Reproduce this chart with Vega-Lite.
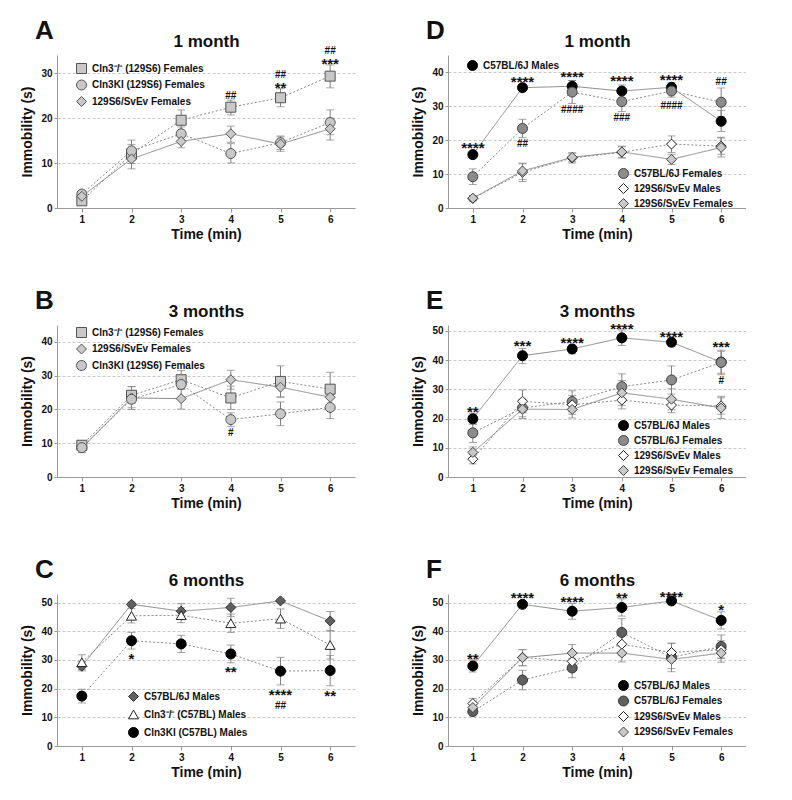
{
"$schema":"https://vega.github.io/schema/vega-lite/v6.json",
"padding":{"left":20,"top":18,"right":0,"bottom":0},
"spacing":47,
"resolve":{"scale":{"shape":"independent","fill":"independent","stroke":"independent","strokeDash":"independent"},"legend":{"shape":"independent","fill":"independent","stroke":"independent","strokeDash":"independent"}},
"datasets":{
"A":[
{"s":"Cln3⁻/⁻ (129S6) Females","t":1,"v":1.6,"lo":0.9,"hi":2.6},
{"s":"Cln3⁻/⁻ (129S6) Females","t":2,"v":12.0,"lo":9.9,"hi":14.1},
{"s":"Cln3⁻/⁻ (129S6) Females","t":3,"v":19.5,"lo":17.0,"hi":21.8},
{"s":"Cln3⁻/⁻ (129S6) Females","t":4,"v":22.4,"lo":20.7,"hi":24.0},
{"s":"Cln3⁻/⁻ (129S6) Females","t":5,"v":24.5,"lo":22.5,"hi":26.5},
{"s":"Cln3⁻/⁻ (129S6) Females","t":6,"v":29.3,"lo":26.7,"hi":31.8},
{"s":"Cln3KI (129S6) Females","t":1,"v":3.1,"lo":2.3,"hi":3.9},
{"s":"Cln3KI (129S6) Females","t":2,"v":12.7,"lo":10.5,"hi":15.1},
{"s":"Cln3KI (129S6) Females","t":3,"v":16.5,"lo":14.9,"hi":18.0},
{"s":"Cln3KI (129S6) Females","t":4,"v":12.1,"lo":10.0,"hi":14.3},
{"s":"Cln3KI (129S6) Females","t":5,"v":14.5,"lo":13.0,"hi":16.0},
{"s":"Cln3KI (129S6) Females","t":6,"v":19.0,"lo":16.3,"hi":21.8},
{"s":"129S6/SvEv Females","t":1,"v":2.6,"lo":1.8,"hi":3.5},
{"s":"129S6/SvEv Females","t":2,"v":10.9,"lo":8.7,"hi":13.0},
{"s":"129S6/SvEv Females","t":3,"v":14.8,"lo":13.4,"hi":16.2},
{"s":"129S6/SvEv Females","t":4,"v":16.5,"lo":14.6,"hi":18.2},
{"s":"129S6/SvEv Females","t":5,"v":14.2,"lo":12.6,"hi":15.8},
{"s":"129S6/SvEv Females","t":6,"v":17.6,"lo":15.1,"hi":20.0}
],
"aA":[{"t":4,"y":24.9,"m":"##"},{"t":5,"y":29.5,"m":"##"},{"t":5,"y":27.3,"m":"**"},{"t":6,"y":35.0,"m":"##"},{"t":6,"y":32.6,"m":"***"}],
"D":[
{"s":"C57BL/6J Males","t":1,"v":15.7,"lo":15.0,"hi":16.4},
{"s":"C57BL/6J Males","t":2,"v":35.4,"lo":34.8,"hi":36.0},
{"s":"C57BL/6J Males","t":3,"v":35.8,"lo":34.2,"hi":37.5},
{"s":"C57BL/6J Males","t":4,"v":34.4,"lo":32.5,"hi":36.2},
{"s":"C57BL/6J Males","t":5,"v":35.5,"lo":34.2,"hi":36.9},
{"s":"C57BL/6J Males","t":6,"v":25.5,"lo":22.5,"hi":28.7},
{"s":"C57BL/6J Females","t":1,"v":9.2,"lo":6.9,"hi":11.5},
{"s":"C57BL/6J Females","t":2,"v":23.4,"lo":20.7,"hi":26.1},
{"s":"C57BL/6J Females","t":3,"v":34.1,"lo":30.7,"hi":37.5},
{"s":"C57BL/6J Females","t":4,"v":31.3,"lo":28.4,"hi":34.2},
{"s":"C57BL/6J Females","t":5,"v":34.4,"lo":32.6,"hi":36.2},
{"s":"C57BL/6J Females","t":6,"v":31.1,"lo":26.9,"hi":35.3},
{"s":"129S6/SvEv Males","t":1,"v":2.8,"lo":2.0,"hi":3.6},
{"s":"129S6/SvEv Males","t":2,"v":10.5,"lo":7.8,"hi":13.0},
{"s":"129S6/SvEv Males","t":3,"v":14.7,"lo":13.2,"hi":16.2},
{"s":"129S6/SvEv Males","t":4,"v":16.4,"lo":14.8,"hi":18.0},
{"s":"129S6/SvEv Males","t":5,"v":18.8,"lo":16.3,"hi":21.2},
{"s":"129S6/SvEv Males","t":6,"v":18.2,"lo":15.8,"hi":20.6},
{"s":"129S6/SvEv Females","t":1,"v":2.9,"lo":2.2,"hi":3.6},
{"s":"129S6/SvEv Females","t":2,"v":10.9,"lo":8.4,"hi":13.2},
{"s":"129S6/SvEv Females","t":3,"v":14.9,"lo":13.6,"hi":16.2},
{"s":"129S6/SvEv Females","t":4,"v":16.5,"lo":14.7,"hi":18.2},
{"s":"129S6/SvEv Females","t":5,"v":14.3,"lo":12.8,"hi":15.8},
{"s":"129S6/SvEv Females","t":6,"v":17.8,"lo":15.0,"hi":20.8}
],
"aD":[{"t":1,"y":18.4,"m":"****"},{"t":2,"y":37.9,"m":"****"},{"t":2,"y":18.9,"m":"##"},{"t":3,"y":39.4,"m":"****"},{"t":3,"y":28.9,"m":"####"},{"t":4,"y":38.2,"m":"****"},{"t":4,"y":26.4,"m":"###"},{"t":5,"y":38.5,"m":"****"},{"t":5,"y":29.9,"m":"####"},{"t":6,"y":37.0,"m":"##"}],
"B":[
{"s":"Cln3⁻/⁻ (129S6) Females","t":1,"v":9.4,"lo":8.2,"hi":10.6},
{"s":"Cln3⁻/⁻ (129S6) Females","t":2,"v":24.2,"lo":21.8,"hi":26.7},
{"s":"Cln3⁻/⁻ (129S6) Females","t":3,"v":28.8,"lo":26.3,"hi":31.5},
{"s":"Cln3⁻/⁻ (129S6) Females","t":4,"v":23.4,"lo":20.0,"hi":26.9},
{"s":"Cln3⁻/⁻ (129S6) Females","t":5,"v":28.3,"lo":23.7,"hi":32.9},
{"s":"Cln3⁻/⁻ (129S6) Females","t":6,"v":26.0,"lo":21.0,"hi":31.0},
{"s":"129S6/SvEv Females","t":1,"v":8.6,"lo":7.2,"hi":10.0},
{"s":"129S6/SvEv Females","t":2,"v":23.4,"lo":20.0,"hi":26.8},
{"s":"129S6/SvEv Females","t":3,"v":23.2,"lo":20.1,"hi":26.3},
{"s":"129S6/SvEv Females","t":4,"v":28.8,"lo":26.0,"hi":31.6},
{"s":"129S6/SvEv Females","t":5,"v":26.6,"lo":23.6,"hi":29.6},
{"s":"129S6/SvEv Females","t":6,"v":23.6,"lo":20.6,"hi":26.6},
{"s":"Cln3KI (129S6) Females","t":1,"v":8.7,"lo":7.4,"hi":10.0},
{"s":"Cln3KI (129S6) Females","t":2,"v":23.0,"lo":20.5,"hi":25.5},
{"s":"Cln3KI (129S6) Females","t":3,"v":27.4,"lo":25.9,"hi":29.0},
{"s":"Cln3KI (129S6) Females","t":4,"v":17.0,"lo":15.0,"hi":19.0},
{"s":"Cln3KI (129S6) Females","t":5,"v":18.7,"lo":15.2,"hi":22.2},
{"s":"Cln3KI (129S6) Females","t":6,"v":20.6,"lo":17.3,"hi":23.9}
],
"aB":[{"t":4,"y":13.0,"m":"#"}],
"E":[
{"s":"C57BL/6J Males","t":1,"v":19.9,"lo":18.0,"hi":21.8},
{"s":"C57BL/6J Males","t":2,"v":41.5,"lo":38.8,"hi":44.0},
{"s":"C57BL/6J Males","t":3,"v":43.8,"lo":42.2,"hi":45.2},
{"s":"C57BL/6J Males","t":4,"v":47.6,"lo":45.0,"hi":50.3},
{"s":"C57BL/6J Males","t":5,"v":46.1,"lo":44.6,"hi":47.5},
{"s":"C57BL/6J Males","t":6,"v":39.3,"lo":35.5,"hi":43.0},
{"s":"C57BL/6J Females","t":1,"v":15.1,"lo":11.8,"hi":18.4},
{"s":"C57BL/6J Females","t":2,"v":23.6,"lo":20.6,"hi":26.6},
{"s":"C57BL/6J Females","t":3,"v":25.8,"lo":22.3,"hi":29.5},
{"s":"C57BL/6J Females","t":4,"v":30.9,"lo":26.5,"hi":35.3},
{"s":"C57BL/6J Females","t":5,"v":33.2,"lo":28.4,"hi":38.0},
{"s":"C57BL/6J Females","t":6,"v":39.2,"lo":35.0,"hi":43.4},
{"s":"129S6/SvEv Males","t":1,"v":6.1,"lo":4.5,"hi":7.7},
{"s":"129S6/SvEv Males","t":2,"v":25.9,"lo":22.0,"hi":29.8},
{"s":"129S6/SvEv Males","t":3,"v":24.7,"lo":21.5,"hi":27.9},
{"s":"129S6/SvEv Males","t":4,"v":26.3,"lo":23.3,"hi":29.3},
{"s":"129S6/SvEv Males","t":5,"v":24.6,"lo":22.0,"hi":27.2},
{"s":"129S6/SvEv Males","t":6,"v":24.3,"lo":21.5,"hi":27.1},
{"s":"129S6/SvEv Females","t":1,"v":8.4,"lo":6.5,"hi":10.3},
{"s":"129S6/SvEv Females","t":2,"v":23.2,"lo":20.0,"hi":26.4},
{"s":"129S6/SvEv Females","t":3,"v":23.1,"lo":20.2,"hi":26.0},
{"s":"129S6/SvEv Females","t":4,"v":28.8,"lo":24.5,"hi":33.0},
{"s":"129S6/SvEv Females","t":5,"v":26.6,"lo":23.0,"hi":30.2},
{"s":"129S6/SvEv Females","t":6,"v":23.6,"lo":20.0,"hi":27.6}
],
"aE":[{"t":1,"y":23.3,"m":"**"},{"t":2,"y":45.8,"m":"***"},{"t":3,"y":46.9,"m":"****"},{"t":4,"y":51.8,"m":"****"},{"t":5,"y":49.0,"m":"****"},{"t":6,"y":45.6,"m":"***"},{"t":6,"y":32.7,"m":"#"}],
"C":[
{"s":"C57BL/6J Males","t":1,"v":27.8,"lo":26.2,"hi":29.4},
{"s":"C57BL/6J Males","t":2,"v":49.4,"lo":48.6,"hi":50.2},
{"s":"C57BL/6J Males","t":3,"v":47.0,"lo":44.5,"hi":49.6},
{"s":"C57BL/6J Males","t":4,"v":48.3,"lo":45.2,"hi":51.5},
{"s":"C57BL/6J Males","t":5,"v":50.6,"lo":49.9,"hi":51.3},
{"s":"C57BL/6J Males","t":6,"v":43.6,"lo":40.3,"hi":46.9},
{"s":"Cln3⁻/⁻ (C57BL) Males","t":1,"v":29.2,"lo":26.6,"hi":31.8},
{"s":"Cln3⁻/⁻ (C57BL) Males","t":2,"v":45.4,"lo":42.9,"hi":47.9},
{"s":"Cln3⁻/⁻ (C57BL) Males","t":3,"v":45.6,"lo":43.0,"hi":48.2},
{"s":"Cln3⁻/⁻ (C57BL) Males","t":4,"v":42.8,"lo":39.6,"hi":46.0},
{"s":"Cln3⁻/⁻ (C57BL) Males","t":5,"v":44.4,"lo":41.0,"hi":47.8},
{"s":"Cln3⁻/⁻ (C57BL) Males","t":6,"v":35.2,"lo":30.3,"hi":40.1},
{"s":"Cln3KI (C57BL) Males","t":1,"v":17.4,"lo":15.0,"hi":19.8},
{"s":"Cln3KI (C57BL) Males","t":2,"v":36.7,"lo":33.8,"hi":39.6},
{"s":"Cln3KI (C57BL) Males","t":3,"v":35.6,"lo":32.6,"hi":38.6},
{"s":"Cln3KI (C57BL) Males","t":4,"v":32.1,"lo":29.0,"hi":35.2},
{"s":"Cln3KI (C57BL) Males","t":5,"v":26.1,"lo":21.3,"hi":30.9},
{"s":"Cln3KI (C57BL) Males","t":6,"v":26.3,"lo":21.0,"hi":31.6}
],
"aC":[{"t":2,"y":31.5,"m":"*"},{"t":4,"y":26.9,"m":"**"},{"t":5,"y":19.0,"m":"****"},{"t":5,"y":13.8,"m":"##"},{"t":6,"y":18.4,"m":"**"}],
"F":[
{"s":"C57BL/6J Males","t":1,"v":27.9,"lo":25.8,"hi":30.0},
{"s":"C57BL/6J Males","t":2,"v":49.4,"lo":48.6,"hi":50.2},
{"s":"C57BL/6J Males","t":3,"v":47.0,"lo":44.2,"hi":49.8},
{"s":"C57BL/6J Males","t":4,"v":48.3,"lo":45.3,"hi":51.3},
{"s":"C57BL/6J Males","t":5,"v":50.6,"lo":49.9,"hi":51.3},
{"s":"C57BL/6J Males","t":6,"v":43.8,"lo":40.8,"hi":46.8},
{"s":"C57BL/6J Females","t":1,"v":12.0,"lo":10.5,"hi":13.5},
{"s":"C57BL/6J Females","t":2,"v":23.0,"lo":19.6,"hi":26.4},
{"s":"C57BL/6J Females","t":3,"v":27.2,"lo":23.8,"hi":30.6},
{"s":"C57BL/6J Females","t":4,"v":39.6,"lo":34.8,"hi":44.4},
{"s":"C57BL/6J Females","t":5,"v":30.9,"lo":25.9,"hi":35.9},
{"s":"C57BL/6J Females","t":6,"v":34.7,"lo":30.7,"hi":38.7},
{"s":"129S6/SvEv Males","t":1,"v":14.8,"lo":13.0,"hi":16.6},
{"s":"129S6/SvEv Males","t":2,"v":30.9,"lo":28.0,"hi":33.6},
{"s":"129S6/SvEv Males","t":3,"v":29.5,"lo":26.5,"hi":32.5},
{"s":"129S6/SvEv Males","t":4,"v":35.5,"lo":31.5,"hi":39.5},
{"s":"129S6/SvEv Males","t":5,"v":32.6,"lo":29.5,"hi":35.7},
{"s":"129S6/SvEv Males","t":6,"v":33.6,"lo":30.5,"hi":36.7},
{"s":"129S6/SvEv Females","t":1,"v":13.4,"lo":11.5,"hi":15.3},
{"s":"129S6/SvEv Females","t":2,"v":30.8,"lo":28.0,"hi":33.6},
{"s":"129S6/SvEv Females","t":3,"v":32.4,"lo":29.4,"hi":35.4},
{"s":"129S6/SvEv Females","t":4,"v":32.4,"lo":29.3,"hi":35.5},
{"s":"129S6/SvEv Females","t":5,"v":30.2,"lo":27.0,"hi":33.4},
{"s":"129S6/SvEv Females","t":6,"v":32.4,"lo":29.2,"hi":35.6}
],
"aF":[{"t":1,"y":31.5,"m":"**"},{"t":2,"y":52.5,"m":"****"},{"t":3,"y":51.1,"m":"****"},{"t":4,"y":52.7,"m":"**"},{"t":5,"y":53.0,"m":"****"},{"t":6,"y":48.6,"m":"*"}]
},
"vconcat":[
{"spacing":56,"resolve":{"scale":{"shape":"independent","fill":"independent","stroke":"independent","strokeDash":"independent"},"legend":{"shape":"independent","fill":"independent","stroke":"independent","strokeDash":"independent"}},"hconcat":[
{"title":{"text":"A","anchor":"start","fontSize":26,"offset":-12,"dx":14},
 "width":298,"height":153,
 "data":{"name":"A"},
 "resolve":{"axis":{"x":"independent"},"scale":{"shape":"independent","fill":"independent","stroke":"independent","strokeDash":"independent"},"legend":{"shape":"independent","fill":"independent","stroke":"independent","strokeDash":"independent"}},
 "layer":[
  {"mark":{"type":"errorbar","ticks":{"size":8},"color":"#808080","thickness":1},
   "encoding":{"x":{"field":"t","type":"quantitative","title":"Time (min)","scale":{"domain":[0.5,6.5],"nice":false,"zero":false},"axis":{"values":[1,2,3,4,5,6],"format":"d"}},
   "y":{"field":"lo","type":"quantitative","title":"Immobility (s)","scale":{"domain":[0,34],"nice":false},"axis":{"values":[0,10,20,30]}},"y2":{"field":"hi"}}},
  {"mark":{"type":"line","color":"#8a8a8a","strokeWidth":1},
   "encoding":{"x":{"field":"t","type":"quantitative","title":"1 month","axis":{"orient":"top","labels":false,"ticks":false,"domain":false,"grid":false,"titleFontSize":17,"titlePadding":5}},
   "y":{"field":"v","type":"quantitative","title":"Immobility (s)","axis":{"values":[0,10,20,30]}},"detail":{"field":"s"},
   "strokeDash":{"field":"s","type":"nominal","scale":{"domain":["Cln3⁻/⁻ (129S6) Females","Cln3KI (129S6) Females","129S6/SvEv Females"],"range":[[2,2],[2,2],[1,0]]},"legend":null}}},
  {"mark":{"type":"point","size":100,"filled":true,"opacity":1,"strokeWidth":1},
   "encoding":{"x":{"field":"t","type":"quantitative","axis":null},"y":{"field":"v","type":"quantitative","title":"Immobility (s)","axis":{"values":[0,10,20,30]}},
   "shape":{"field":"s","type":"nominal","title":null,"scale":{"domain":["Cln3⁻/⁻ (129S6) Females","Cln3KI (129S6) Females","129S6/SvEv Females"],"range":["square","circle","diamond"]},"legend":{"orient":"none","legendX":19,"legendY":8,"rowPadding":1.5}},
   "fill":{"field":"s","type":"nominal","title":null,"scale":{"domain":["Cln3⁻/⁻ (129S6) Females","Cln3KI (129S6) Females","129S6/SvEv Females"],"range":["#c8c8c8","#c8c8c8","#c8c8c8"]}},
   "stroke":{"field":"s","type":"nominal","title":null,"scale":{"domain":["Cln3⁻/⁻ (129S6) Females","Cln3KI (129S6) Females","129S6/SvEv Females"],"range":["#555555","#555555","#555555"]}}}},
  {"data":{"name":"aA"},"transform":[{"filter":"indexof(datum.m,'*')>=0"}],"mark":{"type":"text","fontSize":15,"dy":3},
   "encoding":{"x":{"field":"t","type":"quantitative","axis":null},"y":{"field":"y","type":"quantitative","title":"Immobility (s)","axis":{"values":[0,10,20,30]}},"text":{"field":"m"}}},
  {"data":{"name":"aA"},"transform":[{"filter":"indexof(datum.m,'#')>=0"}],"mark":{"type":"text","fontSize":10},
   "encoding":{"x":{"field":"t","type":"quantitative","axis":null},"y":{"field":"y","type":"quantitative","title":"Immobility (s)","axis":{"values":[0,10,20,30]}},"text":{"field":"m"}}}
 ]},
{"title":{"text":"D","anchor":"start","fontSize":26,"offset":-12,"dx":14},
 "width":298,"height":153,
 "data":{"name":"D"},
 "resolve":{"axis":{"x":"independent"},"scale":{"shape":"independent","fill":"independent","stroke":"independent","strokeDash":"independent"},"legend":{"shape":"independent","fill":"independent","stroke":"independent","strokeDash":"independent"}},
 "layer":[
  {"mark":{"type":"errorbar","ticks":{"size":8},"color":"#808080","thickness":1},
   "encoding":{"x":{"field":"t","type":"quantitative","title":"Time (min)","scale":{"domain":[0.5,6.5],"nice":false,"zero":false},"axis":{"values":[1,2,3,4,5,6],"format":"d"}},
   "y":{"field":"lo","type":"quantitative","title":"Immobility (s)","scale":{"domain":[0,45],"nice":false},"axis":{"values":[0,10,20,30,40]}},"y2":{"field":"hi"}}},
  {"mark":{"type":"line","color":"#8a8a8a","strokeWidth":1},
   "encoding":{"x":{"field":"t","type":"quantitative","title":"1 month","axis":{"orient":"top","labels":false,"ticks":false,"domain":false,"grid":false,"titleFontSize":17,"titlePadding":5}},
   "y":{"field":"v","type":"quantitative","title":"Immobility (s)","axis":{"values":[0,10,20,30,40]}},"detail":{"field":"s"},
   "strokeDash":{"field":"s","type":"nominal","scale":{"domain":["C57BL/6J Males","C57BL/6J Females","129S6/SvEv Males","129S6/SvEv Females"],"range":[[1,0],[2,2],[2,2],[1,0]]},"legend":null}}},
  {"transform":[{"filter":"datum.s=='C57BL/6J Males'"}],
   "mark":{"type":"point","size":100,"filled":true,"opacity":1,"strokeWidth":1},
   "encoding":{"x":{"field":"t","type":"quantitative","axis":null},"y":{"field":"v","type":"quantitative","title":"Immobility (s)","axis":{"values":[0,10,20,30,40]}},
   "shape":{"field":"s","type":"nominal","title":null,"scale":{"domain":["C57BL/6J Males"],"range":["circle"]},"legend":{"orient":"none","legendX":19,"legendY":5}},
   "fill":{"field":"s","type":"nominal","title":null,"scale":{"domain":["C57BL/6J Males"],"range":["#000000"]}},
   "stroke":{"field":"s","type":"nominal","title":null,"scale":{"domain":["C57BL/6J Males"],"range":["#000000"]}}}},
  {"transform":[{"filter":"datum.s!='C57BL/6J Males'"}],
   "mark":{"type":"point","size":100,"filled":true,"opacity":1,"strokeWidth":1},
   "encoding":{"x":{"field":"t","type":"quantitative","axis":null},"y":{"field":"v","type":"quantitative","title":"Immobility (s)","axis":{"values":[0,10,20,30,40]}},
   "shape":{"field":"s","type":"nominal","title":null,"scale":{"domain":["C57BL/6J Females","129S6/SvEv Males","129S6/SvEv Females"],"range":["circle","diamond","diamond"]},"legend":{"orient":"none","legendX":170,"legendY":113,"rowPadding":0}},
   "fill":{"field":"s","type":"nominal","title":null,"scale":{"domain":["C57BL/6J Females","129S6/SvEv Males","129S6/SvEv Females"],"range":["#8c8c8c","#ffffff","#c8c8c8"]}},
   "stroke":{"field":"s","type":"nominal","title":null,"scale":{"domain":["C57BL/6J Females","129S6/SvEv Males","129S6/SvEv Females"],"range":["#444444","#222222","#444444"]}}}},
  {"data":{"name":"aD"},"transform":[{"filter":"indexof(datum.m,'*')>=0"}],"mark":{"type":"text","fontSize":15,"dy":3},
   "encoding":{"x":{"field":"t","type":"quantitative","axis":null},"y":{"field":"y","type":"quantitative","title":"Immobility (s)","axis":{"values":[0,10,20,30,40]}},"text":{"field":"m"}}},
  {"data":{"name":"aD"},"transform":[{"filter":"indexof(datum.m,'#')>=0"}],"mark":{"type":"text","fontSize":10},
   "encoding":{"x":{"field":"t","type":"quantitative","axis":null},"y":{"field":"y","type":"quantitative","title":"Immobility (s)","axis":{"values":[0,10,20,30,40]}},"text":{"field":"m"}}}
 ]}
]},
{"spacing":56,"resolve":{"scale":{"shape":"independent","fill":"independent","stroke":"independent","strokeDash":"independent"},"legend":{"shape":"independent","fill":"independent","stroke":"independent","strokeDash":"independent"}},"hconcat":[
{"title":{"text":"B","anchor":"start","fontSize":26,"offset":-12,"dx":14},
 "width":298,"height":152,
 "data":{"name":"B"},
 "resolve":{"axis":{"x":"independent"},"scale":{"shape":"independent","fill":"independent","stroke":"independent","strokeDash":"independent"},"legend":{"shape":"independent","fill":"independent","stroke":"independent","strokeDash":"independent"}},
 "layer":[
  {"mark":{"type":"errorbar","ticks":{"size":8},"color":"#808080","thickness":1},
   "encoding":{"x":{"field":"t","type":"quantitative","title":"Time (min)","scale":{"domain":[0.5,6.5],"nice":false,"zero":false},"axis":{"values":[1,2,3,4,5,6],"format":"d"}},
   "y":{"field":"lo","type":"quantitative","title":"Immobility (s)","scale":{"domain":[0,45],"nice":false},"axis":{"values":[0,10,20,30,40]}},"y2":{"field":"hi"}}},
  {"mark":{"type":"line","color":"#8a8a8a","strokeWidth":1},
   "encoding":{"x":{"field":"t","type":"quantitative","title":"3 months","axis":{"orient":"top","labels":false,"ticks":false,"domain":false,"grid":false,"titleFontSize":17,"titlePadding":5}},
   "y":{"field":"v","type":"quantitative","title":"Immobility (s)","axis":{"values":[0,10,20,30,40]}},"detail":{"field":"s"},
   "strokeDash":{"field":"s","type":"nominal","scale":{"domain":["Cln3⁻/⁻ (129S6) Females","129S6/SvEv Females","Cln3KI (129S6) Females"],"range":[[2,2],[1,0],[2,2]]},"legend":null}}},
  {"mark":{"type":"point","size":100,"filled":true,"opacity":1,"strokeWidth":1},
   "encoding":{"x":{"field":"t","type":"quantitative","axis":null},"y":{"field":"v","type":"quantitative","title":"Immobility (s)","axis":{"values":[0,10,20,30,40]}},
   "shape":{"field":"s","type":"nominal","title":null,"scale":{"domain":["Cln3⁻/⁻ (129S6) Females","129S6/SvEv Females","Cln3KI (129S6) Females"],"range":["square","diamond","circle"]},"legend":{"orient":"none","legendX":19,"legendY":2,"rowPadding":1.5}},
   "fill":{"field":"s","type":"nominal","title":null,"scale":{"domain":["Cln3⁻/⁻ (129S6) Females","129S6/SvEv Females","Cln3KI (129S6) Females"],"range":["#c8c8c8","#c8c8c8","#c8c8c8"]}},
   "stroke":{"field":"s","type":"nominal","title":null,"scale":{"domain":["Cln3⁻/⁻ (129S6) Females","129S6/SvEv Females","Cln3KI (129S6) Females"],"range":["#555555","#555555","#555555"]}}}},
  {"data":{"name":"aB"},"mark":{"type":"text","fontSize":10},
   "encoding":{"x":{"field":"t","type":"quantitative","axis":null},"y":{"field":"y","type":"quantitative","title":"Immobility (s)","axis":{"values":[0,10,20,30,40]}},"text":{"field":"m"}}}
 ]},
{"title":{"text":"E","anchor":"start","fontSize":26,"offset":-12,"dx":14},
 "width":298,"height":152,
 "data":{"name":"E"},
 "resolve":{"axis":{"x":"independent"},"scale":{"shape":"independent","fill":"independent","stroke":"independent","strokeDash":"independent"},"legend":{"shape":"independent","fill":"independent","stroke":"independent","strokeDash":"independent"}},
 "layer":[
  {"mark":{"type":"errorbar","ticks":{"size":8},"color":"#808080","thickness":1},
   "encoding":{"x":{"field":"t","type":"quantitative","title":"Time (min)","scale":{"domain":[0.5,6.5],"nice":false,"zero":false},"axis":{"values":[1,2,3,4,5,6],"format":"d"}},
   "y":{"field":"lo","type":"quantitative","title":"Immobility (s)","scale":{"domain":[0,52],"nice":false},"axis":{"values":[0,10,20,30,40,50]}},"y2":{"field":"hi"}}},
  {"mark":{"type":"line","color":"#8a8a8a","strokeWidth":1},
   "encoding":{"x":{"field":"t","type":"quantitative","title":"3 months","axis":{"orient":"top","labels":false,"ticks":false,"domain":false,"grid":false,"titleFontSize":17,"titlePadding":5}},
   "y":{"field":"v","type":"quantitative","title":"Immobility (s)","axis":{"values":[0,10,20,30,40,50]}},"detail":{"field":"s"},
   "strokeDash":{"field":"s","type":"nominal","scale":{"domain":["C57BL/6J Males","C57BL/6J Females","129S6/SvEv Males","129S6/SvEv Females"],"range":[[1,0],[2,2],[2,2],[1,0]]},"legend":null}}},
  {"mark":{"type":"point","size":100,"filled":true,"opacity":1,"strokeWidth":1},
   "encoding":{"x":{"field":"t","type":"quantitative","axis":null},"y":{"field":"v","type":"quantitative","title":"Immobility (s)","axis":{"values":[0,10,20,30,40,50]}},
   "shape":{"field":"s","type":"nominal","title":null,"scale":{"domain":["C57BL/6J Males","C57BL/6J Females","129S6/SvEv Males","129S6/SvEv Females"],"range":["circle","circle","diamond","diamond"]},"legend":{"orient":"none","legendX":170,"legendY":95,"rowPadding":0}},
   "fill":{"field":"s","type":"nominal","title":null,"scale":{"domain":["C57BL/6J Males","C57BL/6J Females","129S6/SvEv Males","129S6/SvEv Females"],"range":["#000000","#8c8c8c","#ffffff","#c8c8c8"]}},
   "stroke":{"field":"s","type":"nominal","title":null,"scale":{"domain":["C57BL/6J Males","C57BL/6J Females","129S6/SvEv Males","129S6/SvEv Females"],"range":["#000000","#444444","#222222","#444444"]}}}},
  {"data":{"name":"aE"},"transform":[{"filter":"indexof(datum.m,'*')>=0"}],"mark":{"type":"text","fontSize":15,"dy":3},
   "encoding":{"x":{"field":"t","type":"quantitative","axis":null},"y":{"field":"y","type":"quantitative","title":"Immobility (s)","axis":{"values":[0,10,20,30,40,50]}},"text":{"field":"m"}}},
  {"data":{"name":"aE"},"transform":[{"filter":"indexof(datum.m,'#')>=0"}],"mark":{"type":"text","fontSize":10},
   "encoding":{"x":{"field":"t","type":"quantitative","axis":null},"y":{"field":"y","type":"quantitative","title":"Immobility (s)","axis":{"values":[0,10,20,30,40,50]}},"text":{"field":"m"}}}
 ]}
]},
{"spacing":56,"resolve":{"scale":{"shape":"independent","fill":"independent","stroke":"independent","strokeDash":"independent"},"legend":{"shape":"independent","fill":"independent","stroke":"independent","strokeDash":"independent"}},"hconcat":[
{"title":{"text":"C","anchor":"start","fontSize":26,"offset":-12,"dx":14},
 "width":298,"height":152,
 "data":{"name":"C"},
 "resolve":{"axis":{"x":"independent"},"scale":{"shape":"independent","fill":"independent","stroke":"independent","strokeDash":"independent"},"legend":{"shape":"independent","fill":"independent","stroke":"independent","strokeDash":"independent"}},
 "layer":[
  {"mark":{"type":"errorbar","ticks":{"size":8},"color":"#808080","thickness":1},
   "encoding":{"x":{"field":"t","type":"quantitative","title":"Time (min)","scale":{"domain":[0.5,6.5],"nice":false,"zero":false},"axis":{"values":[1,2,3,4,5,6],"format":"d"}},
   "y":{"field":"lo","type":"quantitative","title":"Immobility (s)","scale":{"domain":[0,53],"nice":false},"axis":{"values":[0,10,20,30,40,50]}},"y2":{"field":"hi"}}},
  {"mark":{"type":"line","color":"#8a8a8a","strokeWidth":1},
   "encoding":{"x":{"field":"t","type":"quantitative","title":"6 months","axis":{"orient":"top","labels":false,"ticks":false,"domain":false,"grid":false,"titleFontSize":17,"titlePadding":5}},
   "y":{"field":"v","type":"quantitative","title":"Immobility (s)","axis":{"values":[0,10,20,30,40,50]}},"detail":{"field":"s"},
   "strokeDash":{"field":"s","type":"nominal","scale":{"domain":["C57BL/6J Males","Cln3⁻/⁻ (C57BL) Males","Cln3KI (C57BL) Males"],"range":[[1,0],[2,2],[2,2]]},"legend":null}}},
  {"mark":{"type":"point","size":100,"filled":true,"opacity":1,"strokeWidth":1},
   "encoding":{"x":{"field":"t","type":"quantitative","axis":null},"y":{"field":"v","type":"quantitative","title":"Immobility (s)","axis":{"values":[0,10,20,30,40,50]}},
   "shape":{"field":"s","type":"nominal","title":null,"scale":{"domain":["C57BL/6J Males","Cln3⁻/⁻ (C57BL) Males","Cln3KI (C57BL) Males"],"range":["diamond","triangle-up","circle"]},"legend":{"orient":"none","legendX":71,"legendY":97,"rowPadding":4}},
   "fill":{"field":"s","type":"nominal","title":null,"scale":{"domain":["C57BL/6J Males","Cln3⁻/⁻ (C57BL) Males","Cln3KI (C57BL) Males"],"range":["#606060","#ffffff","#000000"]}},
   "stroke":{"field":"s","type":"nominal","title":null,"scale":{"domain":["C57BL/6J Males","Cln3⁻/⁻ (C57BL) Males","Cln3KI (C57BL) Males"],"range":["#333333","#222222","#000000"]}}}},
  {"data":{"name":"aC"},"transform":[{"filter":"indexof(datum.m,'*')>=0"}],"mark":{"type":"text","fontSize":15,"dy":3},
   "encoding":{"x":{"field":"t","type":"quantitative","axis":null},"y":{"field":"y","type":"quantitative","title":"Immobility (s)","axis":{"values":[0,10,20,30,40,50]}},"text":{"field":"m"}}},
  {"data":{"name":"aC"},"transform":[{"filter":"indexof(datum.m,'#')>=0"}],"mark":{"type":"text","fontSize":10},
   "encoding":{"x":{"field":"t","type":"quantitative","axis":null},"y":{"field":"y","type":"quantitative","title":"Immobility (s)","axis":{"values":[0,10,20,30,40,50]}},"text":{"field":"m"}}}
 ]},
{"title":{"text":"F","anchor":"start","fontSize":26,"offset":-12,"dx":14},
 "width":298,"height":152,
 "data":{"name":"F"},
 "resolve":{"axis":{"x":"independent"},"scale":{"shape":"independent","fill":"independent","stroke":"independent","strokeDash":"independent"},"legend":{"shape":"independent","fill":"independent","stroke":"independent","strokeDash":"independent"}},
 "layer":[
  {"mark":{"type":"errorbar","ticks":{"size":8},"color":"#808080","thickness":1},
   "encoding":{"x":{"field":"t","type":"quantitative","title":"Time (min)","scale":{"domain":[0.5,6.5],"nice":false,"zero":false},"axis":{"values":[1,2,3,4,5,6],"format":"d"}},
   "y":{"field":"lo","type":"quantitative","title":"Immobility (s)","scale":{"domain":[0,53],"nice":false},"axis":{"values":[0,10,20,30,40,50]}},"y2":{"field":"hi"}}},
  {"mark":{"type":"line","color":"#8a8a8a","strokeWidth":1},
   "encoding":{"x":{"field":"t","type":"quantitative","title":"6 months","axis":{"orient":"top","labels":false,"ticks":false,"domain":false,"grid":false,"titleFontSize":17,"titlePadding":5}},
   "y":{"field":"v","type":"quantitative","title":"Immobility (s)","axis":{"values":[0,10,20,30,40,50]}},"detail":{"field":"s"},
   "strokeDash":{"field":"s","type":"nominal","scale":{"domain":["C57BL/6J Males","C57BL/6J Females","129S6/SvEv Males","129S6/SvEv Females"],"range":[[1,0],[2,2],[2,2],[1,0]]},"legend":null}}},
  {"mark":{"type":"point","size":100,"filled":true,"opacity":1,"strokeWidth":1},
   "encoding":{"x":{"field":"t","type":"quantitative","axis":null},"y":{"field":"v","type":"quantitative","title":"Immobility (s)","axis":{"values":[0,10,20,30,40,50]}},
   "shape":{"field":"s","type":"nominal","title":null,"scale":{"domain":["C57BL/6J Males","C57BL/6J Females","129S6/SvEv Males","129S6/SvEv Females"],"range":["circle","circle","diamond","diamond"]},"legend":{"orient":"none","legendX":170,"legendY":86,"rowPadding":0.5}},
   "fill":{"field":"s","type":"nominal","title":null,"scale":{"domain":["C57BL/6J Males","C57BL/6J Females","129S6/SvEv Males","129S6/SvEv Females"],"range":["#000000","#606060","#ffffff","#c8c8c8"]}},
   "stroke":{"field":"s","type":"nominal","title":null,"scale":{"domain":["C57BL/6J Males","C57BL/6J Females","129S6/SvEv Males","129S6/SvEv Females"],"range":["#000000","#333333","#222222","#444444"]}}}},
  {"data":{"name":"aF"},"transform":[{"filter":"indexof(datum.m,'*')>=0"}],"mark":{"type":"text","fontSize":15,"dy":3},
   "encoding":{"x":{"field":"t","type":"quantitative","axis":null},"y":{"field":"y","type":"quantitative","title":"Immobility (s)","axis":{"values":[0,10,20,30,40,50]}},"text":{"field":"m"}}}
 ]}
]}
],
"config":{
 "font":"Liberation Sans",
 "background":"#ffffff",
 "view":{"stroke":null},
 "title":{"font":"Liberation Sans","fontWeight":"bold","fontSize":17,"color":"#111111"},
 "axis":{"labelFont":"Liberation Sans","titleFont":"Liberation Sans","labelFontWeight":"bold","labelFontSize":10,"labelColor":"#111111","titleFontSize":14,"titleFontWeight":"bold","titleColor":"#111111","domainColor":"#999999","tickColor":"#999999","gridColor":"#c8c8c8","gridDash":[3,2]},
 "axisX":{"grid":false,"tickSize":4,"labelPadding":2,"titlePadding":3},
 "axisY":{"grid":true,"tickSize":3,"labelPadding":2,"titlePadding":6},
 "legend":{"labelFont":"Liberation Sans","labelFontSize":10,"labelFontWeight":"bold","labelColor":"#111111","symbolSize":100,"symbolStrokeWidth":1,"labelOffset":5,"padding":0,"titlePadding":0},
 "text":{"font":"Liberation Sans","fontWeight":"bold","color":"#111111"}
}
}
